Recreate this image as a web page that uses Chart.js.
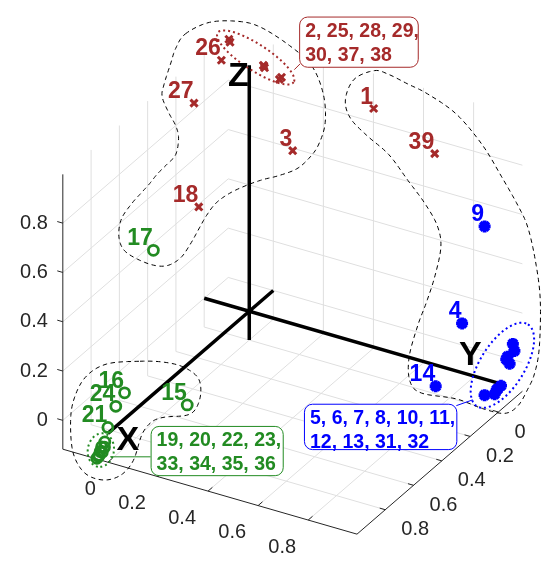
<!DOCTYPE html>
<html>
<head>
  <title>3D membership scatter</title>
  <script src="https://cdn.jsdelivr.net/npm/chart.js"></script>
  <style>
    html, body { margin: 0; padding: 0; background: #fff; }
    #wrap { width: 551px; height: 568px; }
  </style>
</head>
<body>
  <div id="wrap"><canvas id="chart" width="551" height="568"></canvas></div>

  <script>
    // axis ticks and limits (same ticks on all three axes)
    const tickValues = [0, 0.2, 0.4, 0.6, 0.8];
    const tickLabels = ['0', '0.2', '0.4', '0.6', '0.8'];
    const xLimits = [-0.18, 0.995];
    const yLimits = [-0.17, 1.0];
    const zLimits = [-0.117, 0.998];

    // red group (x markers)
    const redIds = [1, 2, 3, 18, 25, 26, 27, 28, 29, 30, 37, 38, 39];
    const redX = [0.507, -0.149, 0.257, 0.000, -0.140, -0.099, -0.075, 0.048, 0.052, 0.140, 0.135, 0.044, 0.735];
    const redY = [0.018, -0.120, 0.148, 0.357, -0.112, 0.022, 0.258, -0.018, -0.016, 0.020, 0.026, -0.022, -0.010];
    const redZ = [0.980, 1.000, 0.800, 0.600, 0.995, 1.000, 0.950, 1.000, 0.995, 1.000, 0.993, 1.000, 0.850];

    // green group (o markers)
    const greenIds = [15, 16, 17, 19, 20, 21, 22, 23, 24, 33, 34, 35, 36];
    const greenX = [0.139, 0.000, 0.000, -0.018, -0.025, 0.000, -0.022, -0.031, 0.000, -0.028, -0.036, -0.040, -0.044];
    const greenY = [0.685, 0.882, 0.678, 0.990, 1.000, 1.000, 0.985, 1.000, 0.944, 0.990, 1.000, 0.995, 1.000];
    const greenZ = [0.000, 0.106, 0.583, -0.045, -0.062, 0.024, -0.070, -0.083, 0.082, -0.090, -0.100, -0.108, -0.114];

    // blue group (* markers)
    const blueIds = [4, 5, 6, 7, 8, 9, 10, 11, 12, 13, 14, 31, 32];
    const blueX = [0.850, 0.980, 0.980, 0.980, 0.980, 0.940, 0.980, 0.980, 0.980, 0.980, 0.818, 0.970, 0.975];
    const blueY = [0.000, -0.129, -0.140, -0.091, -0.106, 0.000, -0.045, -0.015, 0.000, 0.071, 0.130, -0.100, -0.030];
    const blueZ = [0.200, 0.091, 0.057, 0.058, 0.022, 0.620, -0.037, -0.038, -0.049, -0.018, 0.000, 0.040, -0.045];

    // overlapping points that get a callout instead of their own label
    const redCluster = [2, 25, 28, 29, 30, 37, 38];
    const greenCluster = [19, 20, 22, 23, 33, 34, 35, 36];
    const blueCluster = [5, 6, 7, 8, 10, 11, 12, 13, 31, 32];

    const RED = '#a52a2a', GREEN = '#228b22', BLUE = '#0000ff';
    const AXIS = '#262626', GRID = '#dfdfdf';
    const FONT = "'Liberation Sans', Arial, sans-serif";

    // orthographic view: screen position of the origin and of each unit axis
    const view = { origin: [248.3, 312.2], ex: [259.6, 74.9], ey: [-146.6, 126.5], ez: [0, -255.3] };
    function project(x, y, z) {
      return {
        x: view.origin[0] + x * view.ex[0] + y * view.ey[0] + z * view.ez[0],
        y: view.origin[1] + x * view.ex[1] + y * view.ey[1] + z * view.ez[1]
      };
    }
    const GAP = { x: NaN, y: NaN };
    function segs(list) {
      const out = [];
      list.forEach(([a, b]) => out.push(project(...a), project(...b), GAP));
      return out;
    }
    function unit(v, s) { const l = Math.hypot(v[0], v[1]); return [s * v[0] / l, s * v[1] / l]; }

    const [x0, x1] = xLimits, [y0, y1] = yLimits, [z0, z1] = zLimits;

    // grid on floor, left wall and back wall
    const gridList = [];
    tickValues.forEach(t => {
      gridList.push([[t, y0, z0], [t, y1, z0]]);
      gridList.push([[x0, t, z0], [x1, t, z0]]);
      gridList.push([[x0, t, z0], [x0, t, z1]]);
      gridList.push([[x0, y0, t], [x0, y1, t]]);
      gridList.push([[t, y0, z0], [t, y0, z1]]);
      gridList.push([[x0, y0, t], [x1, y0, t]]);
    });

    const edgeList = [
      [[x0, y1, z0], [x0, y1, z1]],
      [[x0, y1, z0], [x1, y1, z0]],
      [[x1, y1, z0], [x1, y0, z0]]
    ];

    // tick marks
    const xTickDir = unit([-view.ey[0], -view.ey[1]], 6);
    const yTickDir = unit([-view.ex[0], -view.ex[1]], 6);
    const zTickDir = unit([-view.ex[0], -view.ex[1]], 6);
    const tickData = [];
    tickValues.forEach(t => {
      [[project(t, y1, z0), xTickDir], [project(x1, t, z0), yTickDir], [project(x0, y1, t), zTickDir]]
        .forEach(([p, d]) => tickData.push(p, { x: p.x + d[0], y: p.y + d[1] }, GAP));
    });

    // thick reference axes through the origin
    const thickList = [
      [[x0, 0, 0], [x1, 0, 0]],
      [[0, y0, 0], [0, y1, 0]],
      [[0, 0, z0], [0, 0, z1]]
    ];
    const axisLetters = [
      { text: 'X', at: [0.085, 1.01, 0] },
      { text: 'Y', at: [0.9, 0.03, 0.1] },
      { text: 'Z', at: [-0.034, 0.016, 0.95] }
    ];

    // hand-drawn group outlines (page pixels)
    const outlineRed = [[182,25],[207,13],[237,12],[260,18],[290,37],[313,58],[325,87],[327,117],[320,140],[310,154],[297,165],[278,172],[262,176],[245,182],[228,190],[214,200],[204,213],[196,227],[187,243],[177,257],[163,265],[147,264],[128,256],[117,247],[113,233],[116,216],[127,200],[136,190],[145,180],[153,170],[163,160],[172,150],[175,133],[172,120],[165,107],[158,90],[160,77],[167,55],[172,40]];
    const outlineRight = [[378,63],[393,67],[413,77],[433,87],[463,108],[490,140],[510,173],[527,203],[537,225],[545,260],[550,300],[549,350],[544,377],[537,393],[527,410],[513,418],[490,413],[463,403],[427,397],[415,385],[414,360],[423,327],[432,303],[441,275],[447,245],[443,223],[430,200],[413,177],[393,150],[370,130],[353,112],[348,93],[357,72]];
    const outlineGreen = [[135,364],[160,365],[180,370],[195,381],[198,397],[193,413],[183,420],[160,422],[147,427],[137,440],[128,467],[115,482],[97,487],[78,480],[66,460],[63,430],[66,405],[78,381],[100,367]];

    function smoothClosed(pts, steps) {
      const out = [], n = pts.length;
      for (let i = 0; i < n; i++) {
        const p0 = pts[(i - 1 + n) % n], p1 = pts[i], p2 = pts[(i + 1) % n], p3 = pts[(i + 2) % n];
        for (let s = 0; s < steps; s++) {
          const t = s / steps, t2 = t * t, t3 = t2 * t;
          const c = k => 0.5 * (2 * p1[k] + (-p0[k] + p2[k]) * t + (2 * p0[k] - 5 * p1[k] + 4 * p2[k] - p3[k]) * t2 + (-p0[k] + 3 * p1[k] - 3 * p2[k] + p3[k]) * t3);
          out.push({ x: c(0), y: c(1) });
        }
      }
      out.push(out[0]);
      return out;
    }

    function groupPoints(ids, X, Y, Z) { return ids.map((id, i) => ({ id, ...project(X[i], Y[i], Z[i]) })); }
    const redPts = groupPoints(redIds, redX, redY, redZ);
    const greenPts = groupPoints(greenIds, greenX, greenY, greenZ);
    const bluePts = groupPoints(blueIds, blueX, blueY, blueZ);

    // dotted ellipse around each cluster
    function clusterEllipse(pts, ids, a, b, deg, shift) {
      const sel = pts.filter(p => ids.includes(p.id));
      const xs = sel.map(p => p.x), ys = sel.map(p => p.y);
      const cx = (Math.min(...xs) + Math.max(...xs)) / 2 + shift[0];
      const cy = (Math.min(...ys) + Math.max(...ys)) / 2 + shift[1];
      const r = deg * Math.PI / 180, out = [];
      for (let i = 0; i <= 90; i++) {
        const t = i / 90 * 2 * Math.PI, u = a * Math.cos(t), v = b * Math.sin(t);
        out.push({ x: cx + u * Math.cos(r) - v * Math.sin(r), y: cy + u * Math.sin(r) + v * Math.cos(r) });
      }
      return out;
    }

    const callouts = [
      { ids: redCluster, color: RED, perLine: 4, box: [300, 7, 423, 59], link: [[295, 62], [301, 56]] },
      { ids: greenCluster, color: GREEN, perLine: 4, box: [146, 431, 283, 482], link: [[104, 463], [146, 463]] },
      { ids: blueCluster, color: BLUE, perLine: 6, box: [305, 408, 463, 455], link: [[463, 410], [480, 404]] }
    ];

    function lineDs(data, color, width, order, dash) {
      return { data, showLine: true, borderColor: color, borderWidth: width, borderDash: dash || [],
               pointRadius: 0, tension: 0, spanGaps: false, fill: false, order, clip: false };
    }
    function markerDs(pts, style, color, radius, width, fillColor) {
      return { data: pts.map(p => ({ x: p.x, y: p.y })), showLine: false, pointStyle: style, pointRadius: radius,
               pointBorderWidth: width, pointBorderColor: color, pointBackgroundColor: fillColor, order: 1, clip: false };
    }

    const overlay = {
      id: 'overlay',
      afterDatasetsDraw(chart) {
        const ctx = chart.ctx, sx = chart.scales.x, sy = chart.scales.y;
        const px = p => ({ x: sx.getPixelForValue(p.x), y: sy.getPixelForValue(p.y) });
        ctx.save();

        // tick labels
        ctx.fillStyle = AXIS;
        ctx.font = '20px ' + FONT;
        ctx.textBaseline = 'middle';
        tickValues.forEach((t, i) => {
          let p = px(project(t, y1, z0));
          ctx.textAlign = 'right'; ctx.fillText(tickLabels[i], p.x - 12, p.y + 27);
          p = px(project(x1, t, z0));
          ctx.textAlign = 'left'; ctx.fillText(tickLabels[i], p.x + 16, p.y + 20);
          p = px(project(x0, y1, t));
          ctx.textAlign = 'right'; ctx.fillText(tickLabels[i], p.x - 15, p.y);
        });

        // axis letters
        ctx.fillStyle = '#000';
        ctx.font = 'bold 34px ' + FONT;
        ctx.textAlign = 'center';
        axisLetters.forEach(l => { const p = px(project(...l.at)); ctx.fillText(l.text, p.x, p.y); });

        // point labels
        ctx.font = 'bold 23px ' + FONT;
        ctx.textAlign = 'right';
        ctx.textBaseline = 'alphabetic';
        const clustered = [...redCluster, ...greenCluster, ...blueCluster];
        [[redPts, RED], [greenPts, GREEN], [bluePts, BLUE]].forEach(([pts, color]) => {
          ctx.fillStyle = color;
          pts.filter(p => !clustered.includes(p.id)).forEach(p => {
            const q = px(p);
            ctx.fillText(String(p.id), q.x - 0.5, q.y - 5);
          });
        });

        // callouts
        callouts.forEach(c => {
          const [l, t, r, b] = c.box;
          ctx.strokeStyle = c.color; ctx.lineWidth = 1;
          ctx.beginPath();
          const a = px({ x: c.link[0][0], y: c.link[0][1] }), e = px({ x: c.link[1][0], y: c.link[1][1] });
          ctx.moveTo(a.x, a.y); ctx.lineTo(e.x, e.y); ctx.stroke();
          const tl = px({ x: l, y: t }), br = px({ x: r, y: b });
          ctx.beginPath();
          ctx.roundRect(tl.x + 0.5, tl.y + 0.5, br.x - tl.x, br.y - tl.y, 8);
          ctx.fillStyle = '#fff'; ctx.fill(); ctx.stroke();
          const lines = [];
          for (let i = 0; i < c.ids.length; i += c.perLine) lines.push(c.ids.slice(i, i + c.perLine));
          ctx.fillStyle = c.color;
          ctx.font = 'bold 19.5px ' + FONT;
          ctx.textAlign = 'left';
          lines.forEach((ids, i) => {
            const txt = ids.join(', ') + (i < lines.length - 1 ? ',' : '');
            ctx.fillText(txt, tl.x + 6, tl.y + 20 + i * 24);
          });
        });
        ctx.restore();
      }
    };

    const ctx = document.getElementById('chart').getContext('2d');
    new Chart(ctx, {
      type: 'scatter',
      data: {
        datasets: [
          lineDs(segs(gridList), GRID, 1, 100),
          lineDs(segs(edgeList), AXIS, 1, 90),
          lineDs(tickData, AXIS, 1, 90),
          lineDs(segs(thickList), '#000', 3.5, 80),
          lineDs(smoothClosed(outlineRed, 8), '#000', 1, 70, [4.5, 3.5]),
          lineDs(smoothClosed(outlineRight, 8), '#000', 1, 70, [4.5, 3.5]),
          lineDs(smoothClosed(outlineGreen, 8), '#000', 1, 70, [4.5, 3.5]),
          lineDs(clusterEllipse(redPts, redCluster, 47, 13.5, 33, [0.5, -2]), RED, 2, 60, [2, 3]),
          lineDs(clusterEllipse(greenPts, greenCluster, 17.5, 13.5, 100, [0, 0]), GREEN, 2, 60, [2, 3]),
          lineDs(clusterEllipse(bluePts, blueCluster, 50, 23, -58, [3, -4.4]), BLUE, 2, 60, [2, 3]),
          markerDs(redPts, 'crossRot', RED, 5, 3, RED),
          markerDs(greenPts, 'circle', GREEN, 5, 2.8, 'rgba(0,0,0,0)'),
          markerDs(bluePts, 'star', BLUE, 6, 3.8, BLUE)
        ]
      },
      options: {
        responsive: false,
        animation: false,
        devicePixelRatio: 1,
        events: [],
        layout: { padding: 0 },
        plugins: { legend: { display: false }, tooltip: { enabled: false } },
        scales: {
          x: { type: 'linear', min: 0, max: 551, display: false },
          y: { type: 'linear', min: 0, max: 568, reverse: true, display: false }
        }
      },
      plugins: [overlay]
    });
  </script>
</body>
</html>
